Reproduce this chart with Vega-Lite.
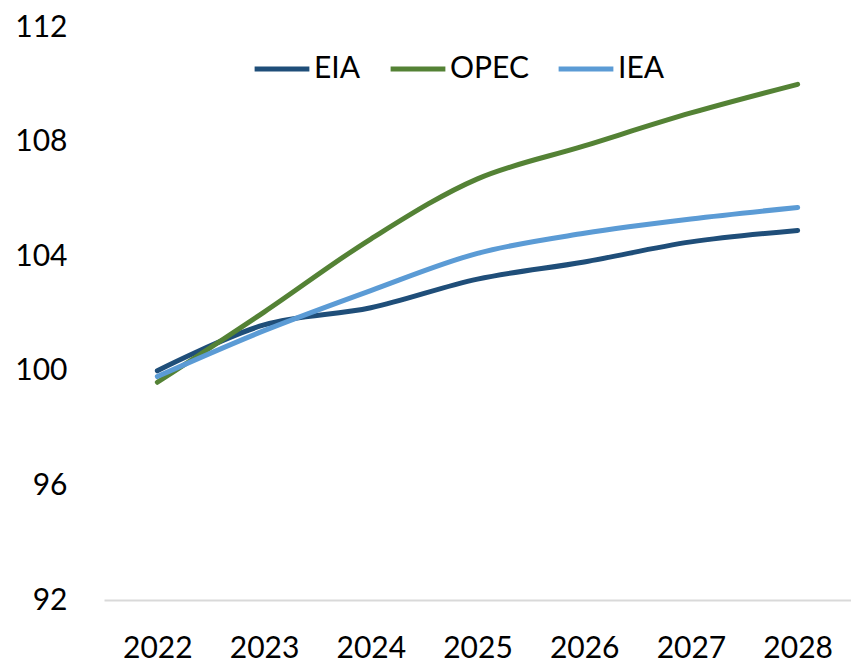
{
  "$schema": "https://vega.github.io/schema/vega-lite/v6.json",
  "width": 747,
  "height": 573,
  "autosize": {"type": "none"},
  "padding": {"left": 104, "top": 27, "right": 0, "bottom": 64},
  "background": "white",
  "config": {"view": {"stroke": null}, "font": "Lato"},
  "data": {
    "values": [
      {"year": "2022", "source": "EIA", "value": 100.0},
      {"year": "2023", "source": "EIA", "value": 101.6},
      {"year": "2024", "source": "EIA", "value": 102.2},
      {"year": "2025", "source": "EIA", "value": 103.2},
      {"year": "2026", "source": "EIA", "value": 103.8},
      {"year": "2027", "source": "EIA", "value": 104.5},
      {"year": "2028", "source": "EIA", "value": 104.9},
      {"year": "2022", "source": "OPEC", "value": 99.6},
      {"year": "2023", "source": "OPEC", "value": 102.05},
      {"year": "2024", "source": "OPEC", "value": 104.6},
      {"year": "2025", "source": "OPEC", "value": 106.7},
      {"year": "2026", "source": "OPEC", "value": 107.85},
      {"year": "2027", "source": "OPEC", "value": 109.0},
      {"year": "2028", "source": "OPEC", "value": 110.0},
      {"year": "2022", "source": "IEA", "value": 99.8},
      {"year": "2023", "source": "IEA", "value": 101.4},
      {"year": "2024", "source": "IEA", "value": 102.8},
      {"year": "2025", "source": "IEA", "value": 104.1},
      {"year": "2026", "source": "IEA", "value": 104.8},
      {"year": "2027", "source": "IEA", "value": 105.3},
      {"year": "2028", "source": "IEA", "value": 105.7}
    ]
  },
  "mark": {"type": "line", "interpolate": "catmull-rom", "strokeWidth": 5, "strokeCap": "round"},
  "encoding": {
    "x": {
      "field": "year", "type": "ordinal",
      "scale": {"type": "point", "padding": 0.5},
      "axis": {"title": null, "labelAngle": 0, "labelFontSize": 30, "labelColor": "black", "labelPadding": 33, "ticks": false, "domainColor": "#D9D9D9", "domainWidth": 2, "grid": false}
    },
    "y": {
      "field": "value", "type": "quantitative",
      "scale": {"domain": [92, 112], "nice": false, "zero": false},
      "axis": {"title": null, "values": [92, 96, 100, 104, 108, 112], "labelFontSize": 30, "labelColor": "black", "labelPadding": 37, "ticks": false, "domain": false, "grid": false}
    },
    "color": {
      "field": "source", "type": "nominal",
      "scale": {"domain": ["EIA", "OPEC", "IEA"], "range": ["#1F4E79", "#548235", "#5B9BD5"]},
      "legend": {
        "title": null, "orient": "none", "direction": "horizontal",
        "legendX": 148, "legendY": 12,
        "symbolType": "stroke", "symbolSize": 3000, "symbolStrokeWidth": 5,
        "labelFontSize": 30, "labelColor": "black", "labelOffset": 2, "columnPadding": 19
      }
    }
  }
}
